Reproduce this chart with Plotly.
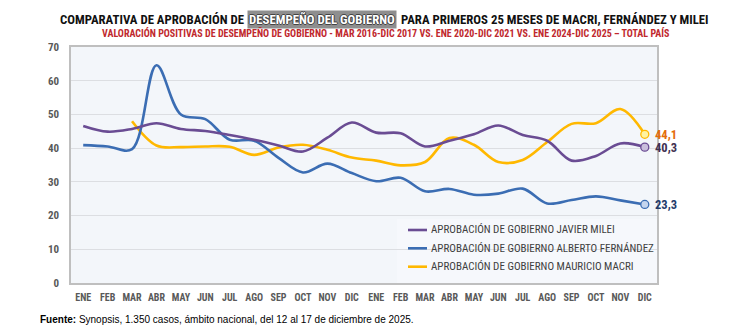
import plotly.graph_objects as go

# Monthly approval series (first 24 months of each government, %)
month_labels = ["ENE", "FEB", "MAR", "ABR", "MAY", "JUN", "JUL", "AGO", "SEP", "OCT", "NOV", "DIC",
                "ENE", "FEB", "MAR", "ABR", "MAY", "JUN", "JUL", "AGO", "SEP", "OCT", "NOV", "DIC"]
y_ticks = [0, 10, 20, 30, 40, 50, 60, 70]

milei = [46.6, 44.9, 45.7, 47.4, 45.7, 45.1, 43.9, 42.5, 40.8, 39.0, 43.1, 47.6,
         44.6, 44.4, 40.5, 42.2, 44.1, 46.7, 43.9, 42.2, 36.3, 37.7, 41.4, 40.3]
fernandez = [40.9, 40.5, 39.7, 64.6, 50.0, 48.6, 42.5, 42.2, 37.1, 32.8, 35.4, 32.6,
             30.2, 31.2, 27.2, 27.9, 26.2, 26.5, 28.0, 23.6, 24.6, 25.7, 24.5, 23.3]
macri = [None, None, 48.0, 40.8, 40.3, 40.5, 40.4, 38.0, 40.2, 41.0, 39.5, 37.2,
         36.3, 34.9, 35.9, 43.0, 41.0, 35.9, 36.5, 41.8, 47.2, 47.4, 51.6, 44.1]

series_names = ["APROBACIÓN DE GOBIERNO JAVIER MILEI",
                "APROBACIÓN DE GOBIERNO ALBERTO FERNÁNDEZ",
                "APROBACIÓN DE GOBIERNO MAURICIO MACRI"]

title_left = "COMPARATIVA DE APROBACIÓN DE"
title_mid = "DESEMPEÑO DEL GOBIERNO"
title_right = "PARA PRIMEROS 25 MESES DE MACRI, FERNÁNDEZ Y MILEI"
subtitle = ("VALORACIÓN POSITIVAS DE DESEMPEÑO DE GOBIERNO - MAR 2016-DIC 2017 VS. "
            "ENE 2020-DIC 2021 VS. ENE 2024-DIC 2025 – TOTAL PAÍS")
source_bold = "Fuente:"
source_text = " Synopsis, 1.350 casos, ámbito nacional, del 12 al 17 de diciembre de 2025."

NARROW = "Liberation Sans Narrow, Roboto Condensed, Roboto, sans-serif"

line_colors = ["#6A4C93", "#3B6DB3", "#FFB800"]
marker_fills = ["#C9BEDC", "#C5D5EE", "#FFF3A0"]
label_colors = ["#3F3151", "#1F3B6B", "#E46C0A"]
series = [milei, fernandez, macri]

x = list(range(len(month_labels)))

W, H = 730, 332
L, R, T, B = 71, 657, 47, 283


def px(xp):
    return (xp - L) / (R - L)


def py(yp):
    return (B - yp) / (B - T)


fig = go.Figure()

# Smooth lines, drawn back-to-front so Milei sits on top
for idx in [2, 1, 0]:
    vals = series[idx]
    fig.add_trace(go.Scatter(
        x=x, y=vals, mode="lines", name=series_names[idx],
        line=dict(color=line_colors[idx], width=2.6, shape="spline", smoothing=1.0),
        connectgaps=False, showlegend=False, hoverinfo="skip",
    ))

# End-point markers and value labels
for idx in range(3):
    vals = series[idx]
    last_x, last_y = x[-1], vals[-1]
    fig.add_trace(go.Scatter(
        x=[last_x], y=[last_y], mode="markers", showlegend=False, hoverinfo="skip",
        marker=dict(size=8, color=marker_fills[idx],
                    line=dict(color=line_colors[idx], width=1.3)),
    ))
    fig.add_annotation(
        x=last_x, y=last_y, xref="x", yref="y",
        text=f"<b>{last_y:.1f}</b>".replace(".", ","),
        showarrow=False, xanchor="left", yanchor="middle", xshift=9, borderpad=0,
        font=dict(family=NARROW, size=12.5, color=label_colors[idx]),
    )

# Legend panel drawn inside the plot area
fig.add_shape(type="rect", xref="paper", yref="paper",
              x0=px(397), x1=1, y0=0, y1=py(219),
              fillcolor="#F6F8FC", line=dict(width=0), layer="between")
legend_rows = [230, 248.3, 266.7]
for idx, yrow in enumerate(legend_rows):
    fig.add_shape(type="line", xref="paper", yref="paper",
                  x0=px(408), x1=px(427), y0=py(yrow), y1=py(yrow),
                  line=dict(color=line_colors[idx], width=2.6))
    fig.add_annotation(
        x=px(428.5), y=py(yrow), xref="paper", yref="paper",
        text=series_names[idx], showarrow=False, xanchor="left", yanchor="middle",
        font=dict(family=NARROW, size=11, color="#404040"),
    )

# Title with highlighted phrase
title_y = py(19)
TITLE_SIZE = 12.8
fig.add_annotation(x=px(246), y=title_y, xref="paper", yref="paper", text=f"<b>{title_left}</b>",
                   showarrow=False, xanchor="right", yanchor="middle",
                   font=dict(family=NARROW, size=TITLE_SIZE, color="#111111"))
fig.add_annotation(x=px(322), y=title_y, xref="paper", yref="paper", text=f"<b>{title_mid}</b>",
                   showarrow=False, xanchor="center", yanchor="middle",
                   bgcolor="#8E8E8E", borderpad=1,
                   font=dict(family=NARROW, size=TITLE_SIZE, color="#FFFFFF",
                             shadow="1px 0 0 #444, -1px 0 0 #444, 0 1px 0 #444, 0 -1px 0 #444"))
fig.add_annotation(x=px(399), y=title_y, xref="paper", yref="paper", text=f"<b>{title_right}</b>",
                   showarrow=False, xanchor="left", yanchor="middle",
                   font=dict(family=NARROW, size=TITLE_SIZE, color="#111111"))
fig.add_annotation(x=px(386), y=py(32.5), xref="paper", yref="paper", text=f"<b>{subtitle}</b>",
                   showarrow=False, xanchor="center", yanchor="middle",
                   font=dict(family=NARROW, size=10, color="#C0282D"))

# Source note
fig.add_annotation(x=px(38), y=py(319), xref="paper", yref="paper",
                   text=f"<b>{source_bold}</b>{source_text}",
                   showarrow=False, xanchor="left", yanchor="middle",
                   font=dict(family="Liberation Sans, Arial, sans-serif", size=10, color="#000000"))

fig.update_layout(
    width=W, height=H,
    margin=dict(l=L, r=W - R, t=T, b=H - B, pad=0),
    paper_bgcolor="#FFFFFF", plot_bgcolor="#F3F6FA",
    showlegend=False,
    xaxis=dict(
        range=[-0.5, len(x) - 0.5], tickmode="array", tickvals=x,
        ticktext=[f"<b>{m}</b>" for m in month_labels],
        showgrid=False, zeroline=False, ticks="",
        showline=True, linecolor="#BFBFBF", linewidth=1.5, mirror=True,
        tickfont=dict(family=NARROW, size=10, color="#595959"),
        ticklabelstandoff=4,
    ),
    yaxis=dict(
        range=[0, 70], tickmode="array", tickvals=y_ticks,
        ticktext=[f"<b>{v}</b>" for v in y_ticks],
        showgrid=True, gridcolor="#DCDEE2", gridwidth=1.3, zeroline=False, ticks="",
        showline=True, linecolor="#BFBFBF", linewidth=1.5, mirror=True,
        tickfont=dict(family=NARROW, size=11, color="#595959"),
        ticklabelstandoff=8,
    ),
)

fig.write_html("out.html")
